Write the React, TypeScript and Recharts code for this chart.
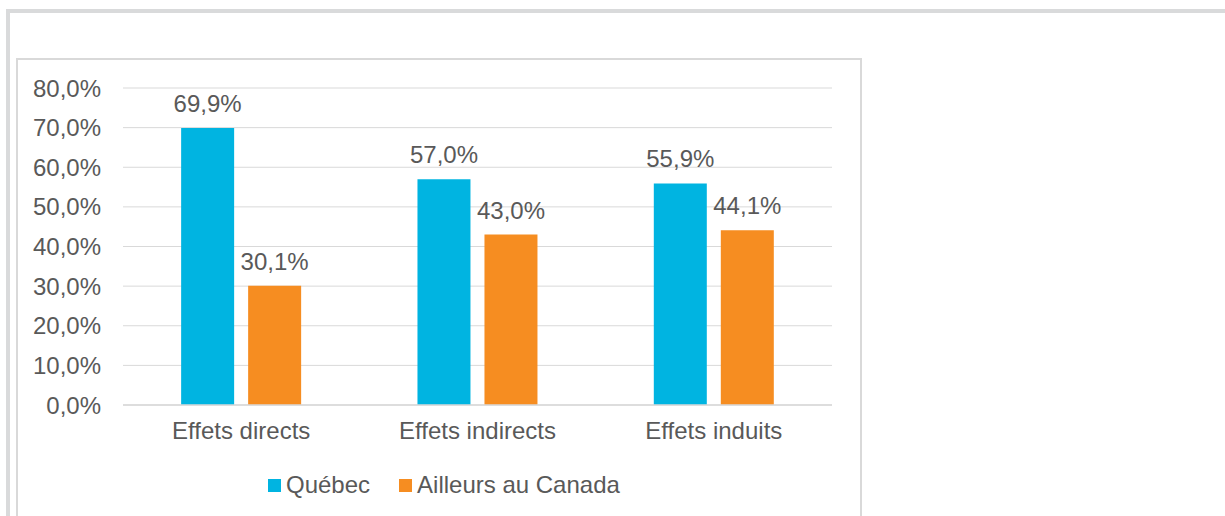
import React from 'react'
import { BarChart, Bar, XAxis, YAxis, CartesianGrid, Legend, LabelList } from 'recharts'

const categories = ['Effets directs', 'Effets indirects', 'Effets induits']
const quebec = [69.9, 57.0, 55.9]
const ailleurs = [30.1, 43.0, 44.1]
const yTicks = [0, 10, 20, 30, 40, 50, 60, 70, 80]

const BLUE = '#00b4e1'
const ORANGE = '#f68d21'
const TEXT = '#595959'
const FONT = '"Liberation Sans", Arial, sans-serif'
const SIZE = 24

const data = categories.map((name, i) => ({ name, quebec: quebec[i], ailleurs: ailleurs[i] }))

const pct = (v: number) => `${v.toFixed(1).replace('.', ',')}%`

function LegendContent() {
  const items = [
    { label: 'Québec', color: BLUE },
    { label: 'Ailleurs au Canada', color: ORANGE },
  ]
  return (
    <div style={{ display: 'flex', alignItems: 'center', fontFamily: FONT, fontSize: SIZE, color: TEXT, lineHeight: '28px' }}>
      {items.map((it, i) => (
        <div key={it.label} style={{ display: 'flex', alignItems: 'center', marginLeft: i ? 29 : 0 }}>
          <span style={{ width: 13, height: 13, background: it.color, display: 'inline-block', marginRight: 5 }} />
          <span>{it.label}</span>
        </div>
      ))}
    </div>
  )
}

export default function App() {
  return (
    <div style={{ position: 'fixed', left: 0, top: 0, width: 1225, height: 516, background: '#fff', overflow: 'hidden' }}>
      <div style={{ position: 'absolute', left: 6, top: 9, width: 1400, height: 700, border: '4px solid #d9dadb' }} />
      <div style={{ position: 'absolute', left: 16, top: 58, width: 842, height: 700, border: '2px solid #d9d9d9' }} />
      <div style={{ position: 'absolute', left: 0, top: 0 }}>
        <BarChart
          width={1225}
          height={516}
          data={data}
          margin={{ top: 88, right: 393, bottom: 61, left: 0 }}
          barCategoryGap="24.6%"
          barGap={14}
        >
          <CartesianGrid vertical={false} stroke="#d9d9d9" />
          <XAxis
            dataKey="name"
            height={50}
            tickSize={0}
            tickMargin={17}
            axisLine={{ stroke: '#d9d9d9', strokeWidth: 1.5 }}
            tick={{ fill: TEXT, fontSize: SIZE, fontFamily: FONT }}
          />
          <YAxis
            width={123}
            domain={[0, 80]}
            ticks={yTicks}
            tickFormatter={pct}
            axisLine={false}
            tickSize={0}
            tickMargin={22}
            tick={{ fill: TEXT, fontSize: SIZE, fontFamily: FONT }}
          />
          <Legend
            layout="horizontal"
            verticalAlign="middle"
            align="center"
            wrapperStyle={{ top: 471, left: 268, width: 'auto' }}
            content={<LegendContent />}
          />
          <Bar dataKey="quebec" name="Québec" fill={BLUE} isAnimationActive={false}>
            <LabelList dataKey="quebec" position="top" offset={16} formatter={(v: any) => pct(Number(v))}
              style={{ fill: TEXT, fontSize: SIZE, fontFamily: FONT }} />
          </Bar>
          <Bar dataKey="ailleurs" name="Ailleurs au Canada" fill={ORANGE} isAnimationActive={false}>
            <LabelList dataKey="ailleurs" position="top" offset={16} formatter={(v: any) => pct(Number(v))}
              style={{ fill: TEXT, fontSize: SIZE, fontFamily: FONT }} />
          </Bar>
        </BarChart>
      </div>
    </div>
  )
}
